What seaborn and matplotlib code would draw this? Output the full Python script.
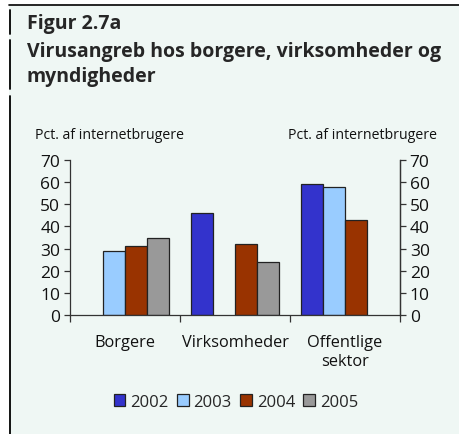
import numpy as np
import pandas as pd
import matplotlib
matplotlib.use("Agg")
import matplotlib.pyplot as plt
import seaborn as sns
from matplotlib.patches import Patch, Rectangle
from matplotlib.lines import Line2D

# Data
categories = ["Borgere", "Virksomheder", "Offentlige\nsektor"]
years = ["2002", "2003", "2004", "2005"]
values_2002 = [np.nan, 46, 59]
values_2003 = [29, np.nan, 58]
values_2004 = [31, 32, 43]
values_2005 = [35, 24, np.nan]
colors = ["#3333CC", "#99CCFF", "#993300", "#999999"]

sns.set_style("white")
plt.rcParams['font.family'] = ['Open Sans', 'DejaVu Sans']

rows = []
for year, vals in zip(years, [values_2002, values_2003, values_2004, values_2005]):
    for cat, v in zip(categories, vals):
        rows.append({"kategori": cat, "aar": year, "pct": v})
df = pd.DataFrame(rows)

W, H = 459, 435
fig = plt.figure(figsize=(W / 100, H / 100), dpi=100)
fig.patch.set_facecolor("white")

# mint panel with top rule and broken left rule
fig.add_artist(Rectangle((9 / W, 0), 1 - 9 / W, 1 - 7 / H, transform=fig.transFigure,
                         facecolor="#EFF7F4", edgecolor="none", zorder=-10))
fig.add_artist(Line2D([9 / W, 1], [1 - 6 / H, 1 - 6 / H], color="black", lw=1.2))
for y0, y1 in [(11, 35), (41, 90), (97, 435)]:
    fig.add_artist(Line2D([9.5 / W, 9.5 / W], [1 - y0 / H, 1 - y1 / H], color="black", lw=1.3))

fig.text(27 / W, 1 - 29 / H, "Figur 2.7a", fontsize=14, fontweight="bold", va="baseline")
fig.text(27 / W, 1 - 57 / H, "Virusangreb hos borgere, virksomheder og", fontsize=14,
         fontweight="bold", va="baseline")
fig.text(27 / W, 1 - 82 / H, "myndigheder", fontsize=14, fontweight="bold", va="baseline")

ax = fig.add_axes([70 / W, 1 - 316 / H, 330 / W, 155 / H])
ax.set_facecolor("none")
sns.barplot(data=df, x="kategori", y="pct", hue="aar", hue_order=years, order=categories,
            palette=colors, width=0.8, edgecolor="#222222", linewidth=0.9,
            saturation=1, errorbar=None, ax=ax, legend=False)

ax.set_xlim(-0.5, 2.5)
ax.set_ylim(0, 70)
ax.set_yticks(range(0, 71, 10))
ax.set_xlabel("")
ax.set_ylabel("")
ax.spines["top"].set_visible(False)
for s in ["left", "right", "bottom"]:
    ax.spines[s].set_color("#333333")
    ax.spines[s].set_linewidth(0.9)
ax.tick_params(axis="y", left=True, length=4, width=0.9, color="#333333",
               labelsize=12.5, pad=3, labelcolor="#111111")
ax.set_xticks([0, 1, 2])
ax.set_xticklabels(categories, fontsize=11.8, color="#111111", linespacing=1.2)
ax.tick_params(axis="x", length=0, pad=14)
ax.set_xticks([-0.5, 0.5, 1.5, 2.5], minor=True)
ax.tick_params(axis="x", which="minor", bottom=True, length=5, width=0.9, color="#333333")

ax2 = ax.twinx()
ax2.set_ylim(0, 70)
ax2.set_yticks(range(0, 71, 10))
ax2.spines["top"].set_visible(False)
ax2.spines["left"].set_visible(False)
ax2.spines["bottom"].set_visible(False)
ax2.spines["right"].set_color("#333333")
ax2.spines["right"].set_linewidth(0.9)
ax2.tick_params(axis="y", right=True, length=4, width=0.9, color="#333333",
                labelsize=12.5, pad=3, labelcolor="#111111")

fig.text(35 / W, 1 - 139 / H, "Pct. af internetbrugere", fontsize=10.2, va="baseline",
         color="#111111")
fig.text(437 / W, 1 - 139 / H, "Pct. af internetbrugere", fontsize=10.2, va="baseline",
         ha="right", color="#111111")

handles = [Patch(facecolor=c, edgecolor="#222222", linewidth=0.9) for c in colors]
fig.legend(handles, years, loc="center", bbox_to_anchor=(236 / W, 1 - 403 / H),
           ncol=4, frameon=False, fontsize=12, handlelength=0.7, handleheight=0.7,
           handletextpad=0.3, columnspacing=0.5)

fig.savefig("out.png", dpi=100, facecolor=fig.get_facecolor())
